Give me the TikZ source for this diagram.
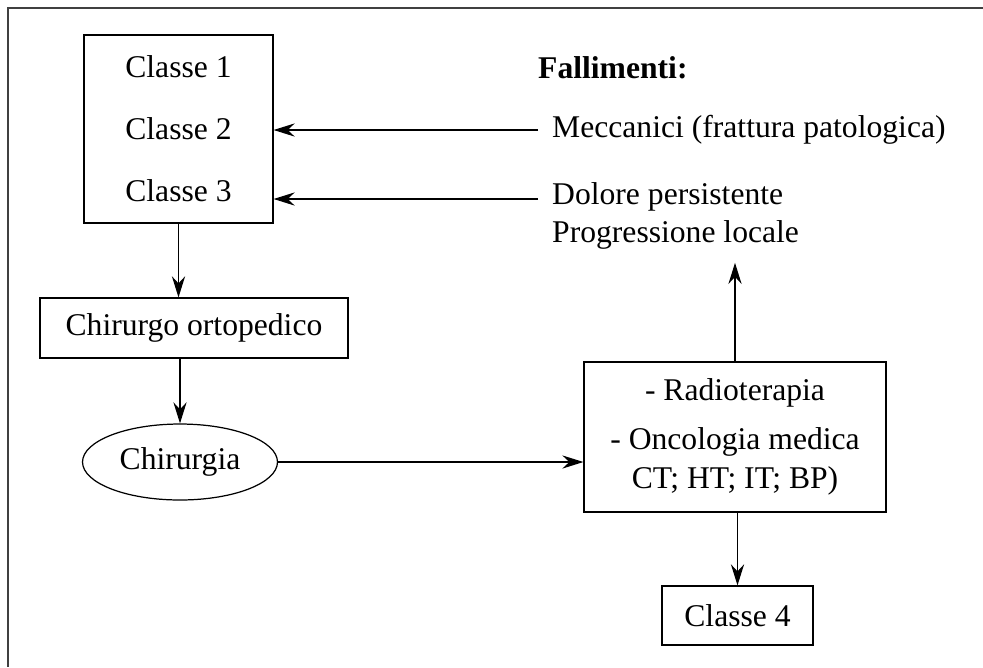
\documentclass[tikz,border=0pt]{standalone}
\usepackage{fontspec}
\setmainfont{Liberation Serif}
\usetikzlibrary{shapes.geometric,arrows.meta}

\begin{document}
\begin{tikzpicture}[
  x=0.02cm, y=-0.02cm,
  every node/.style = {font=\fontsize{18}{22}\selectfont},
  box/.style  = {draw, rectangle, line width=0.7pt, align=center, inner sep=0pt},
  oval/.style = {draw, ellipse, line width=0.7pt, inner sep=0pt},
  txt/.style  = {align=left, anchor=west},
  go/.style   = {->, line width=0.7pt, >={Stealth[length=12pt, width=7.5pt, inset=4pt]}},
]
\useasboundingbox (0,0) rectangle (983,667);

% open frame (top and left only)
\draw[line width=1.1pt, black!75] (983,8) -- (8,8) -- (8,667);

% --- Classi ---------------------------------------------------------------
\node[box, minimum width=3.78cm, minimum height=3.76cm] (classi) at (178.5,129)
  {Classe 1\\[0.47cm] Classe 2\\[0.47cm] Classe 3};

% --- Fallimenti -----------------------------------------------------------
\node[txt, font=\fontsize{18}{22}\selectfont\bfseries] (fall) at (532,68) {Fallimenti:};
\node[txt] (mecc) at (546,130) {Meccanici (frattura patologica)};
\node[txt, anchor=north west] (dol) at (546,176) {Dolore persistente\\ Progressione locale};
\coordinate (meccin) at (538,130);
\coordinate (dolin) at (538,199);

\draw[go] (meccin) -- (meccin -| classi.east);
\draw[go] (dolin) -- (dolin -| classi.east);

% --- Percorso chirurgico --------------------------------------------------
\node[box, minimum width=6.16cm, minimum height=1.2cm] (orto) at (194,328) {Chirurgo ortopedico};
\node[oval, minimum width=3.9cm, minimum height=1.52cm] (chir) at (180,462) {Chirurgia};

\draw[go] (classi.south) -- (classi.south |- orto.north);
\draw[go] (chir.north |- orto.south) -- (chir.north);

% --- Terapie --------------------------------------------------------------
\node[box, minimum width=6.04cm, minimum height=3.0cm] (terap) at (735,437)
  {- Radioterapia\\[0.2cm] - Oncologia medica\\ CT; HT; IT; BP)};
\node[box, minimum width=3.02cm, minimum height=1.18cm] (cl4) at (737.5,615.5) {Classe 4};

\draw[go] (chir.east) -- (terap.west |- chir.east);
\draw[go] (terap.north) -- ([yshift=-0.14cm]terap.north |- dol.south);
\draw[go] (terap.south -| cl4.north) -- (cl4.north);

\end{tikzpicture}
\end{document}
